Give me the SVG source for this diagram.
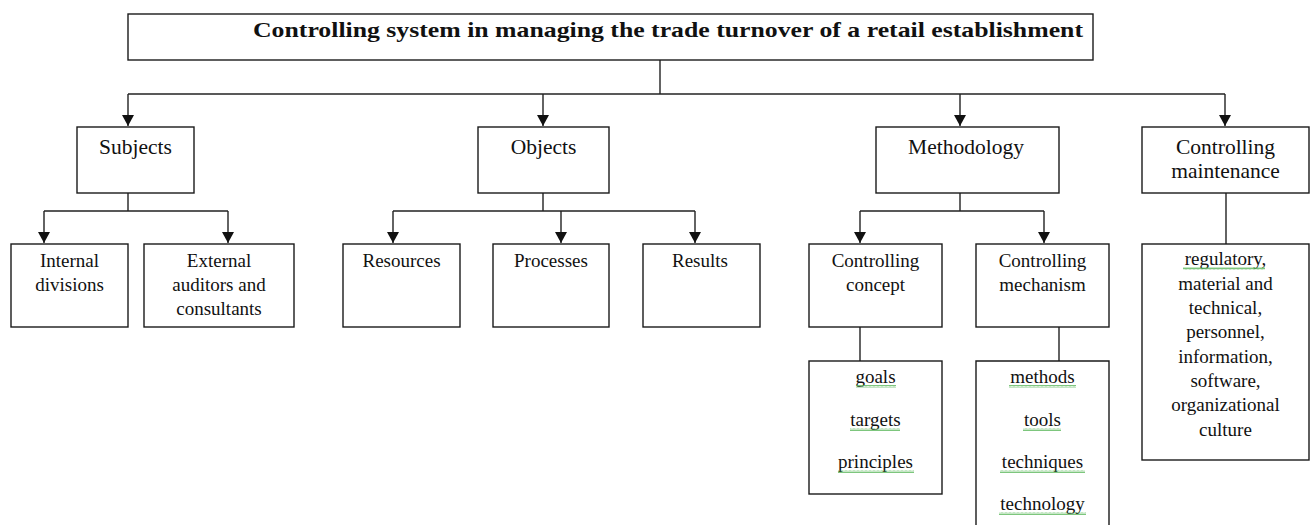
<svg xmlns="http://www.w3.org/2000/svg" width="1312" height="525" viewBox="0 0 1312 525">
  <defs>
    <marker id="arrow" markerWidth="14" markerHeight="14" refX="11" refY="6" orient="auto" markerUnits="userSpaceOnUse">
      <path d="M0,0 L11,6 L0,12 Z" fill="#111"/>
    </marker>
    <!-- wavy green spell-check underline -->
    <pattern id="squiggle" width="4" height="3" patternUnits="userSpaceOnUse">
      <path d="M0,2.5 L1,0.5 L2,2.5 L3,0.5 L4,2.5" fill="none" stroke="#5cb85c" stroke-width="0.8"/>
    </pattern>
  </defs>
  <style>
    .box { fill: #fff; stroke: #1a1a1a; stroke-width: 1.4; }
    .line { fill: none; stroke: #222; stroke-width: 1.4; }
    .arr { marker-end: url(#arrow); }
    text { font-family: "Liberation Serif", "Times New Roman", serif; fill: #111; text-anchor: middle; }
    .title { font-size: 22px; font-weight: bold; text-anchor: start; }
    .l1 { font-size: 21.5px; }
    .l2 { font-size: 19px; }
    .sq { fill: url(#squiggle); }
  </style>

  <rect width="1312" height="525" fill="#fff"/>

  <g id="connectors">
    <path class="line" d="M660,60 V94"/>
    <path class="line" d="M128,94 H1225"/>
    <path class="line arr" d="M128,94 V126"/>
    <path class="line arr" d="M543,94 V126"/>
    <path class="line arr" d="M960,94 V126"/>
    <path class="line arr" d="M1225,94 V126"/>

    <path class="line" d="M128,193 V211 M44,211 H228"/>
    <path class="line arr" d="M44,211 V243"/>
    <path class="line arr" d="M228,211 V243"/>

    <path class="line" d="M543,193 V211 M393,211 H695"/>
    <path class="line arr" d="M393,211 V243"/>
    <path class="line arr" d="M561,211 V243"/>
    <path class="line arr" d="M695,211 V243"/>

    <path class="line" d="M960,193 V211 M860,211 H1044"/>
    <path class="line arr" d="M860,211 V243"/>
    <path class="line arr" d="M1044,211 V243"/>

    <path class="line" d="M1226,193 V244"/>
    <path class="line" d="M860,327 V361"/>
    <path class="line" d="M1059,327 V361"/>
  </g>

  <g id="title">
    <rect class="box" x="128" y="14" width="965" height="46"/>
    <text class="title" x="253" y="37" textLength="830" lengthAdjust="spacingAndGlyphs">Controlling system in managing the trade turnover of a retail establishment</text>
  </g>

  <g id="subjects">
    <rect class="box" x="77" y="127" width="117" height="66"/>
    <text class="l1" x="135.5" y="154">Subjects</text>
  </g>
  <g id="objects">
    <rect class="box" x="478" y="127" width="131" height="66"/>
    <text class="l1" x="543.5" y="154">Objects</text>
  </g>
  <g id="methodology">
    <rect class="box" x="876" y="127" width="183" height="66"/>
    <text class="l1" x="966" y="154">Methodology</text>
  </g>
  <g id="maintenance">
    <rect class="box" x="1142" y="127" width="167" height="66"/>
    <text class="l1" x="1225.5" y="154">Controlling</text>
    <text class="l1" x="1225.5" y="178">maintenance</text>
  </g>

  <g id="internal-divisions">
    <rect class="box" x="11" y="244" width="117" height="83"/>
    <text class="l2" x="69.5" y="267">Internal</text>
    <text class="l2" x="69.5" y="291">divisions</text>
  </g>
  <g id="external-auditors">
    <rect class="box" x="144" y="244" width="150" height="83"/>
    <text class="l2" x="219" y="267">External</text>
    <text class="l2" x="219" y="291">auditors and</text>
    <text class="l2" x="219" y="315">consultants</text>
  </g>

  <g id="resources">
    <rect class="box" x="343" y="244" width="117" height="83"/>
    <text class="l2" x="401.5" y="267">Resources</text>
  </g>
  <g id="processes">
    <rect class="box" x="493" y="244" width="116" height="83"/>
    <text class="l2" x="551" y="267">Processes</text>
  </g>
  <g id="results">
    <rect class="box" x="643" y="244" width="117" height="83"/>
    <text class="l2" x="700" y="267">Results</text>
  </g>

  <g id="controlling-concept">
    <rect class="box" x="809" y="244" width="133" height="83"/>
    <text class="l2" x="875.5" y="267">Controlling</text>
    <text class="l2" x="875.5" y="291">concept</text>
  </g>
  <g id="controlling-mechanism">
    <rect class="box" x="976" y="244" width="133" height="83"/>
    <text class="l2" x="1042.5" y="267">Controlling</text>
    <text class="l2" x="1042.5" y="291">mechanism</text>
  </g>

  <g id="concept-items">
    <rect class="box" x="809" y="361" width="133" height="133"/>
    <text class="l2" x="875.5" y="383">goals</text>
    <text class="l2" x="875.5" y="426">targets</text>
    <text class="l2" x="875.5" y="468">principles</text>
    <rect class="sq" x="856" y="385" width="40" height="3"/>
    <rect class="sq" x="850" y="428" width="50" height="3"/>
    <rect class="sq" x="838" y="470" width="76" height="3"/>
  </g>

  <g id="mechanism-items">
    <path class="box" d="M976,527 V361 H1109 V527"/>
    <text class="l2" x="1042.5" y="383">methods</text>
    <text class="l2" x="1042.5" y="426">tools</text>
    <text class="l2" x="1042.5" y="468">techniques</text>
    <text class="l2" x="1042.5" y="510">technology</text>
    <rect class="sq" x="1009" y="385" width="67" height="3"/>
    <rect class="sq" x="1023" y="428" width="38" height="3"/>
    <rect class="sq" x="1000" y="470" width="85" height="3"/>
    <rect class="sq" x="999" y="512" width="87" height="3"/>
  </g>

  <g id="maintenance-items">
    <rect class="box" x="1142" y="244" width="167" height="216"/>
    <text class="l2" x="1225.5" y="265">regulatory,</text>
    <text class="l2" x="1225.5" y="290">material and</text>
    <text class="l2" x="1225.5" y="314">technical,</text>
    <text class="l2" x="1225.5" y="338">personnel,</text>
    <text class="l2" x="1225.5" y="363">information,</text>
    <text class="l2" x="1225.5" y="387">software,</text>
    <text class="l2" x="1225.5" y="411">organizational</text>
    <text class="l2" x="1225.5" y="436">culture</text>
    <rect class="sq" x="1183" y="267" width="82" height="3"/>
  </g>
</svg>
